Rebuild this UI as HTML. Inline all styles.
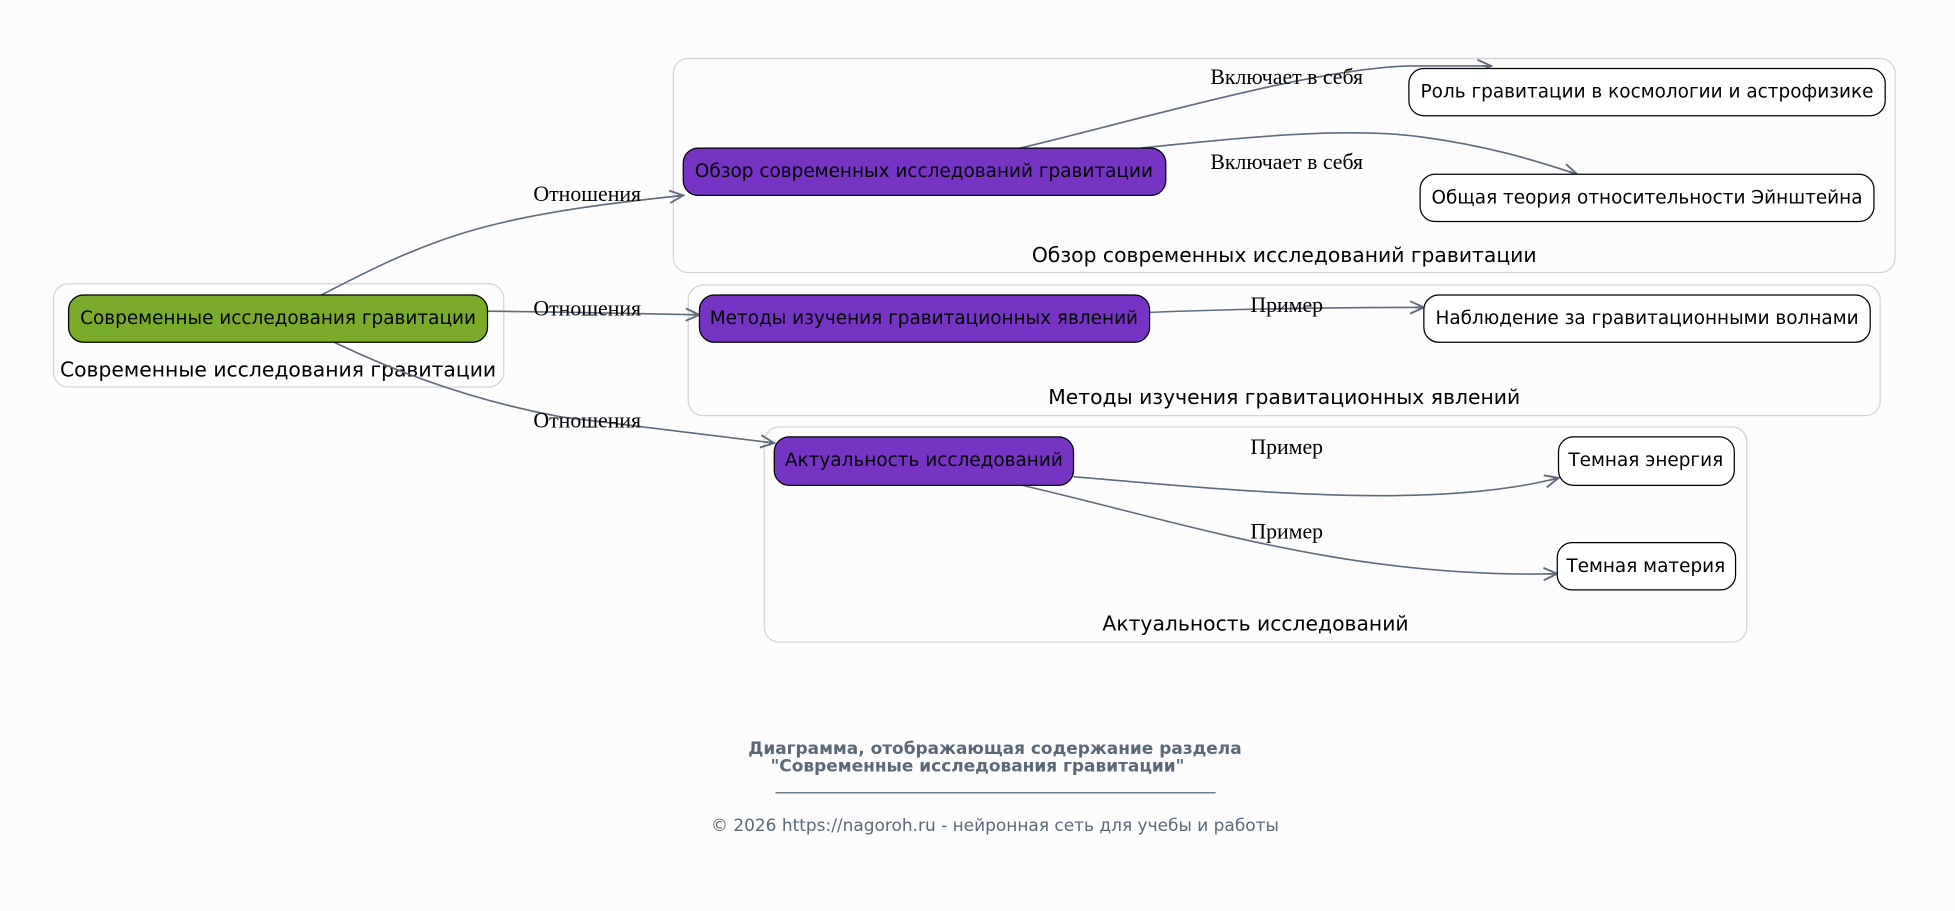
<!DOCTYPE html>
<html><head><meta charset="utf-8"><style>
html,body{margin:0;padding:0;background:#fcfcfc;}
svg{display:block}
.n{font-family:"DejaVu Sans","Liberation Sans",sans-serif;font-size:14.8px;fill:#000;text-anchor:middle;dominant-baseline:central}
.c{font-family:"DejaVu Sans","Liberation Sans",sans-serif;font-size:16.3px;fill:#000;text-anchor:middle;dominant-baseline:central}
.e{font-family:"Liberation Serif","DejaVu Serif",serif;font-size:17.5px;fill:#000;text-anchor:middle;dominant-baseline:central}
.p{fill:none;stroke:#5e6b7a;stroke-width:1.3;marker-end:url(#a)}
.cl{fill:#fcfcfc;stroke:#d3d3d3;stroke-width:1}
.f{font-family:'DejaVu Sans',sans-serif;font-size:13.6px;fill:#5a6878;text-anchor:middle;dominant-baseline:central}
</style></head><body>
<svg width="1955" height="911" viewBox="0 0 1568 732" preserveAspectRatio="none">
<defs><marker id="a" markerWidth="14" markerHeight="12" refX="12" refY="6" orient="auto" markerUnits="userSpaceOnUse">
<path d="M1,1 L12,6 L1,11 M5,6 L12,6" fill="none" stroke="#5e6b7a" stroke-width="1.5"/></marker></defs>
<rect x="0" y="0" width="1568" height="732" fill="#fcfcfc"/>
<rect class="cl" x="43" y="228" width="361" height="83" rx="12"/>
<rect class="cl" x="540" y="47" width="980" height="172" rx="12"/>
<rect class="cl" x="552" y="229" width="956" height="105" rx="12"/>
<rect class="cl" x="613" y="343" width="788" height="173" rx="12"/>
<text class="c" x="223" y="297">Современные исследования гравитации</text>
<text class="c" x="1030" y="205">Обзор современных исследований гравитации</text>
<text class="c" x="1030" y="319">Методы изучения гравитационных явлений</text>
<text class="c" x="1007" y="501">Актуальность исследований</text>

<path class="p" d="M258,237 C300,215 340,195 390,182 C440,169 500,162 548,157"/>
<path class="p" d="M391,250 L460,251 L561,253"/>
<path class="p" d="M268,275 C320,300 380,322 450,335 L621,356"/>
<path class="p" d="M818,119 C900,100 1050,55 1130,53 L1196,53"/>
<path class="p" d="M915,119 C1000,110 1080,102 1140,110 C1200,118 1240,132 1265,140"/>
<path class="p" d="M922,251 C1000,248 1070,247 1142,247"/>
<path class="p" d="M861,383 C1000,395 1150,410 1250,384"/>
<path class="p" d="M820,390 C950,420 1080,465 1249,461"/>

<rect x="55" y="237" width="336" height="38" rx="12" fill="#7aab2a" stroke="#000"/>
<text class="n" x="223" y="256">Современные исследования гравитации</text>
<rect x="548" y="119" width="387" height="38" rx="12" fill="#7634c4" stroke="#000"/>
<text class="n" x="741" y="138">Обзор современных исследований гравитации</text>
<rect x="561" y="237" width="361" height="38" rx="12" fill="#7634c4" stroke="#000"/>
<text class="n" x="741" y="256">Методы изучения гравитационных явлений</text>
<rect x="621" y="351" width="240" height="39" rx="12" fill="#7634c4" stroke="#000"/>
<text class="n" x="741" y="370">Актуальность исследований</text>
<rect x="1130" y="55" width="382" height="38" rx="12" fill="#fff" stroke="#000"/>
<text class="n" x="1321" y="74">Роль гравитации в космологии и астрофизике</text>
<rect x="1139" y="140" width="364" height="38" rx="12" fill="#fff" stroke="#000"/>
<text class="n" x="1321" y="159">Общая теория относительности Эйнштейна</text>
<rect x="1142" y="237" width="358" height="38" rx="12" fill="#fff" stroke="#000"/>
<text class="n" x="1321" y="256">Наблюдение за гравитационными волнами</text>
<rect x="1250" y="351" width="141" height="39" rx="12" fill="#fff" stroke="#000"/>
<text class="n" x="1320" y="370">Темная энергия</text>
<rect x="1249" y="436" width="143" height="38" rx="12" fill="#fff" stroke="#000"/>
<text class="n" x="1320" y="455">Темная материя</text>

<text class="e" x="471" y="156">Отношения</text>
<text class="e" x="471" y="248">Отношения</text>
<text class="e" x="471" y="338">Отношения</text>
<text class="e" x="1032" y="62">Включает в себя</text>
<text class="e" x="1032" y="130">Включает в себя</text>
<text class="e" x="1032" y="245">Пример</text>
<text class="e" x="1032" y="359">Пример</text>
<text class="e" x="1032" y="427">Пример</text>

<text class="f" x="798" y="601" style="font-weight:bold">Диаграмма, отображающая содержание раздела</text>
<text class="f" x="784" y="615" style="font-weight:bold">"Современные исследования гравитации"</text>
<line x1="622" y1="637" x2="975" y2="637" stroke="#5a6878" stroke-width="1"/>
<text class="f" x="798" y="663">© 2026 https://nagoroh.ru - нейронная сеть для учебы и работы</text>
</svg>
</body></html>
